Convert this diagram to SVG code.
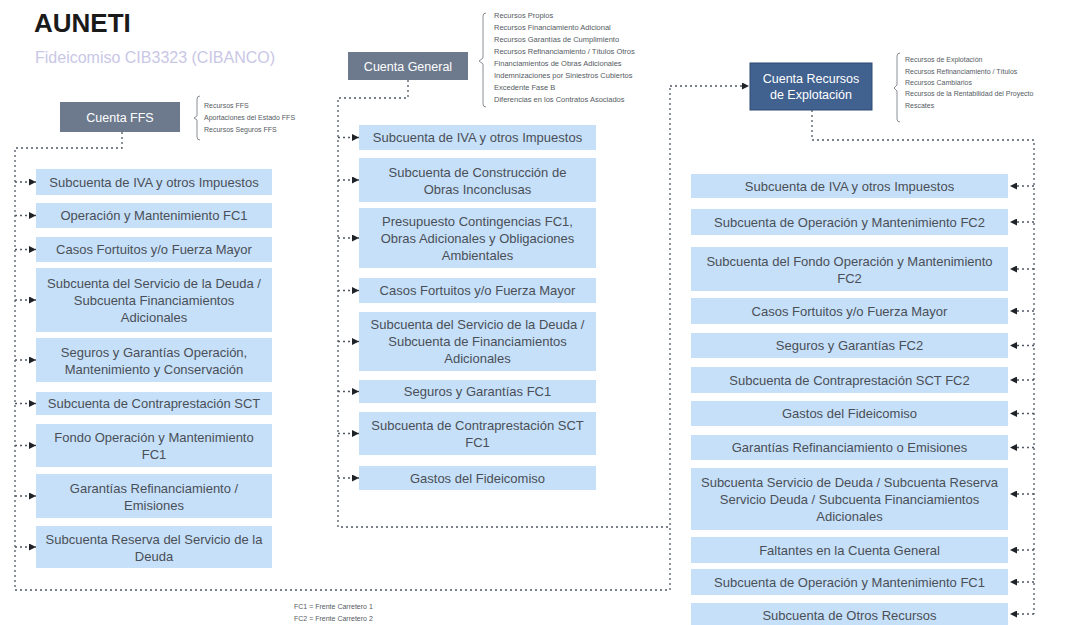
<svg xmlns="http://www.w3.org/2000/svg" width="1076" height="625" viewBox="0 0 1076 625">
  <style>
    .title { font-family: "Liberation Sans", Arial, sans-serif; font-weight: bold; font-size: 26px; fill: #1a1a1a; }
    .subtitle { font-family: "Liberation Sans", Arial, sans-serif; font-size: 16px; fill: #c9c7e6; }
    .acct { fill: #6d7a8d; }
    .acct-main { fill: #41618f; stroke: #2f4a72; stroke-width: 1; }
    .acct-label { font-family: "Liberation Sans", Arial, sans-serif; font-size: 12.5px; fill: #ffffff; text-anchor: middle; }
    .sub { fill: #c6e0f9; }
    .sub-label { font-family: "Liberation Sans", Arial, sans-serif; font-size: 13px; fill: #4a4f57; text-anchor: middle; }
    .note { font-family: "Liberation Sans", Arial, sans-serif; font-size: 7px; fill: #555b63; }
    .note-wide { font-size: 7.5px; }
    .brace { fill: none; stroke: #8a8f96; stroke-width: 1; }
    .link { fill: none; stroke: #4f5864; stroke-width: 1.3; stroke-dasharray: 2 3; }
    .feed { fill: none; stroke: #4f5864; stroke-width: 1.3; stroke-dasharray: 2 3; marker-end: url(#tip); }
  </style>
  <defs>
    <marker id="tip" viewBox="0 0 7 7" refX="7" refY="3.5" markerWidth="7" markerHeight="7" markerUnits="userSpaceOnUse" orient="auto">
      <path d="M0,0 L7,3.5 L0,7 Z" fill="#1f2328"/>
    </marker>
  </defs>

  <rect width="1076" height="625" fill="#ffffff"/>

  <!-- Heading -->
  <text class="title" x="34" y="32">AUNETI</text>
  <text class="subtitle" x="35" y="63">Fideicomiso CIB3323 (CIBANCO)</text>

  <!-- Connectors -->
  <g id="connectors">
    <!-- Cuenta FFS spine -->
    <path class="link" d="M122,132 V148 H15 V590 H670"/>
    <!-- Cuenta General spine -->
    <path class="link" d="M408,80 V98 H338 V527 H670"/>
    <!-- transfer to Cuenta Recursos de Explotación -->
    <path class="link" d="M670,590 V86"/>
    <path class="feed" d="M670,86 H749"/>
    <!-- Cuenta Recursos de Explotación spine -->
    <path class="link" d="M812,110 V140 H1034 V614"/>

    <!-- left column feeds -->
    <path class="feed" d="M15,182 H36"/>
    <path class="feed" d="M15,215.5 H36"/>
    <path class="feed" d="M15,249.5 H36"/>
    <path class="feed" d="M15,300 H36"/>
    <path class="feed" d="M15,360 H36"/>
    <path class="feed" d="M15,403.5 H36"/>
    <path class="feed" d="M15,445.5 H36"/>
    <path class="feed" d="M15,496 H36"/>
    <path class="feed" d="M15,547 H36"/>

    <!-- middle column feeds -->
    <path class="feed" d="M338,137.5 H359"/>
    <path class="feed" d="M338,180 H359"/>
    <path class="feed" d="M338,238 H359"/>
    <path class="feed" d="M338,290.5 H359"/>
    <path class="feed" d="M338,341.5 H359"/>
    <path class="feed" d="M338,391.5 H359"/>
    <path class="feed" d="M338,433.5 H359"/>
    <path class="feed" d="M338,478 H359"/>

    <!-- right column feeds -->
    <path class="feed" d="M1034,186 H1010"/>
    <path class="feed" d="M1034,222 H1010"/>
    <path class="feed" d="M1034,269 H1010"/>
    <path class="feed" d="M1034,311 H1010"/>
    <path class="feed" d="M1034,345.5 H1010"/>
    <path class="feed" d="M1034,380 H1010"/>
    <path class="feed" d="M1034,413.5 H1010"/>
    <path class="feed" d="M1034,447.5 H1010"/>
    <path class="feed" d="M1034,494 H1010"/>
    <path class="feed" d="M1034,550 H1010"/>
    <path class="feed" d="M1034,582 H1010"/>
    <path class="feed" d="M1034,614 H1010"/>
  </g>

  <!-- Cuenta FFS -->
  <g id="cuenta-ffs">
    <rect class="acct" x="60" y="102" width="120" height="30"/>
    <text class="acct-label" x="120" y="121.5">Cuenta FFS</text>
    <path class="brace" d="M200,96 Q197,96 197,99 V116 L194,118 L197,120 V137 Q197,140 200,140"/>
    <text class="note" x="204" y="108">Recursos FFS</text>
    <text class="note" x="204" y="120">Aportaciones del Estado FFS</text>
    <text class="note" x="204" y="132">Recursos Seguros FFS</text>
  </g>

  <!-- Cuenta General -->
  <g id="cuenta-general">
    <rect class="acct" x="348" y="52" width="120" height="28"/>
    <text class="acct-label" x="408" y="70.5">Cuenta General</text>
    <path class="brace" d="M486,13 Q483,13 483,16 V58 L479,61 L483,64 V104 Q483,107 486,107"/>
    <text class="note note-wide" x="494" y="18">Recursos Propios</text>
    <text class="note note-wide" x="494" y="30">Recursos Financiamiento Adicional</text>
    <text class="note note-wide" x="494" y="42">Recursos Garantías de Cumplimiento</text>
    <text class="note note-wide" x="494" y="54">Recursos Refinanciamiento / Títulos Otros</text>
    <text class="note note-wide" x="494" y="66">Financiamientos de Obras Adicionales</text>
    <text class="note note-wide" x="494" y="78">Indemnizaciones por Siniestros Cubiertos</text>
    <text class="note note-wide" x="494" y="90">Excedente Fase B</text>
    <text class="note note-wide" x="494" y="102">Diferencias en los Contratos Asociados</text>
  </g>

  <!-- Cuenta Recursos de Explotación -->
  <g id="cuenta-recursos-explotacion">
    <rect class="acct-main" x="750" y="63" width="122" height="47"/>
    <text class="acct-label" x="811" y="83">Cuenta Recursos</text>
    <text class="acct-label" x="811" y="99">de Explotación</text>
    <path class="brace" d="M900,53 Q897,53 897,56 V85 L894,88 L897,91 V119 Q897,122 900,122"/>
    <text class="note" x="905" y="62">Recursos de Explotación</text>
    <text class="note" x="905" y="74">Recursos Refinanciamiento / Títulos</text>
    <text class="note" x="905" y="85">Recursos Cambiarios</text>
    <text class="note" x="905" y="96">Recursos de la Rentabilidad del Proyecto</text>
    <text class="note" x="905" y="108">Rescates</text>
  </g>

  <!-- Left column: Cuenta FFS subaccounts -->
  <g id="ffs-iva">
    <rect class="sub" x="36" y="169" width="236" height="26"/>
    <text class="sub-label" x="154" y="186.5">Subcuenta de IVA y otros Impuestos</text>
  </g>
  <g id="ffs-operacion">
    <rect class="sub" x="36" y="203" width="236" height="25"/>
    <text class="sub-label" x="154" y="220">Operación y Mantenimiento FC1</text>
  </g>
  <g id="ffs-casos-fortuitos">
    <rect class="sub" x="36" y="237" width="236" height="25"/>
    <text class="sub-label" x="154" y="254">Casos Fortuitos y/o Fuerza Mayor</text>
  </g>
  <g id="ffs-servicio-deuda">
    <rect class="sub" x="36" y="268" width="236" height="64"/>
    <text class="sub-label" x="154" y="287.5">Subcuenta del Servicio de la Deuda /</text>
    <text class="sub-label" x="154" y="304.5">Subcuenta Financiamientos</text>
    <text class="sub-label" x="154" y="321.5">Adicionales</text>
  </g>
  <g id="ffs-seguros">
    <rect class="sub" x="36" y="338" width="236" height="44"/>
    <text class="sub-label" x="154" y="356.5">Seguros y Garantías Operación,</text>
    <text class="sub-label" x="154" y="373.5">Mantenimiento y Conservación</text>
  </g>
  <g id="ffs-contraprestacion">
    <rect class="sub" x="36" y="392" width="236" height="23"/>
    <text class="sub-label" x="154" y="408">Subcuenta de Contraprestación SCT</text>
  </g>
  <g id="ffs-fondo-operacion">
    <rect class="sub" x="36" y="424" width="236" height="43"/>
    <text class="sub-label" x="154" y="441.5">Fondo Operación y Mantenimiento</text>
    <text class="sub-label" x="154" y="458.5">FC1</text>
  </g>
  <g id="ffs-garantias">
    <rect class="sub" x="36" y="474" width="236" height="44"/>
    <text class="sub-label" x="154" y="492.5">Garantías Refinanciamiento /</text>
    <text class="sub-label" x="154" y="509.5">Emisiones</text>
  </g>
  <g id="ffs-reserva">
    <rect class="sub" x="36" y="526" width="236" height="42"/>
    <text class="sub-label" x="154" y="543.5">Subcuenta Reserva del Servicio de la</text>
    <text class="sub-label" x="154" y="560.5">Deuda</text>
  </g>

  <!-- Middle column: Cuenta General subaccounts -->
  <g id="gen-iva">
    <rect class="sub" x="359" y="125" width="237" height="25"/>
    <text class="sub-label" x="477.5" y="142">Subcuenta de IVA y otros Impuestos</text>
  </g>
  <g id="gen-construccion">
    <rect class="sub" x="359" y="158" width="237" height="44"/>
    <text class="sub-label" x="477.5" y="176.5">Subcuenta de Construcción de</text>
    <text class="sub-label" x="477.5" y="193.5">Obras Inconclusas</text>
  </g>
  <g id="gen-contingencias">
    <rect class="sub" x="359" y="208" width="237" height="60"/>
    <text class="sub-label" x="477.5" y="225.5">Presupuesto Contingencias FC1,</text>
    <text class="sub-label" x="477.5" y="242.5">Obras Adicionales y Obligaciones</text>
    <text class="sub-label" x="477.5" y="259.5">Ambientales</text>
  </g>
  <g id="gen-casos-fortuitos">
    <rect class="sub" x="359" y="278" width="237" height="25"/>
    <text class="sub-label" x="477.5" y="295">Casos Fortuitos y/o Fuerza Mayor</text>
  </g>
  <g id="gen-servicio-deuda">
    <rect class="sub" x="359" y="312" width="237" height="59"/>
    <text class="sub-label" x="477.5" y="329">Subcuenta del Servicio de la Deuda /</text>
    <text class="sub-label" x="477.5" y="346">Subcuenta de Financiamientos</text>
    <text class="sub-label" x="477.5" y="363">Adicionales</text>
  </g>
  <g id="gen-seguros">
    <rect class="sub" x="359" y="380" width="237" height="23"/>
    <text class="sub-label" x="477.5" y="396">Seguros y Garantías FC1</text>
  </g>
  <g id="gen-contraprestacion">
    <rect class="sub" x="359" y="412" width="237" height="43"/>
    <text class="sub-label" x="477.5" y="429.5">Subcuenta de Contraprestación SCT</text>
    <text class="sub-label" x="477.5" y="446.5">FC1</text>
  </g>
  <g id="gen-gastos">
    <rect class="sub" x="359" y="466" width="237" height="24"/>
    <text class="sub-label" x="477.5" y="482.5">Gastos del Fideicomiso</text>
  </g>

  <!-- Right column: Cuenta Recursos de Explotación subaccounts -->
  <g id="exp-iva">
    <rect class="sub" x="691" y="174" width="317" height="24"/>
    <text class="sub-label" x="849.5" y="190.5">Subcuenta de IVA y otros Impuestos</text>
  </g>
  <g id="exp-operacion-fc2">
    <rect class="sub" x="691" y="209" width="317" height="26"/>
    <text class="sub-label" x="849.5" y="226.5">Subcuenta de Operación y Mantenimiento FC2</text>
  </g>
  <g id="exp-fondo-operacion">
    <rect class="sub" x="691" y="247" width="317" height="44"/>
    <text class="sub-label" x="849.5" y="265.5">Subcuenta del Fondo Operación y Mantenimiento</text>
    <text class="sub-label" x="849.5" y="282.5">FC2</text>
  </g>
  <g id="exp-casos-fortuitos">
    <rect class="sub" x="691" y="298" width="317" height="26"/>
    <text class="sub-label" x="849.5" y="315.5">Casos Fortuitos y/o Fuerza Mayor</text>
  </g>
  <g id="exp-seguros">
    <rect class="sub" x="691" y="333" width="317" height="25"/>
    <text class="sub-label" x="849.5" y="350">Seguros y Garantías FC2</text>
  </g>
  <g id="exp-contraprestacion">
    <rect class="sub" x="691" y="367" width="317" height="26"/>
    <text class="sub-label" x="849.5" y="384.5">Subcuenta de Contraprestación SCT FC2</text>
  </g>
  <g id="exp-gastos">
    <rect class="sub" x="691" y="401" width="317" height="25"/>
    <text class="sub-label" x="849.5" y="418">Gastos del Fideicomiso</text>
  </g>
  <g id="exp-garantias">
    <rect class="sub" x="691" y="435" width="317" height="25"/>
    <text class="sub-label" x="849.5" y="452">Garantías Refinanciamiento o Emisiones</text>
  </g>
  <g id="exp-servicio-deuda">
    <rect class="sub" x="691" y="468" width="317" height="62"/>
    <text class="sub-label" x="849.5" y="486.5">Subcuenta Servicio de Deuda / Subcuenta Reserva</text>
    <text class="sub-label" x="849.5" y="503.5">Servicio Deuda / Subcuenta Financiamientos</text>
    <text class="sub-label" x="849.5" y="520.5">Adicionales</text>
  </g>
  <g id="exp-faltantes">
    <rect class="sub" x="691" y="537" width="317" height="26"/>
    <text class="sub-label" x="849.5" y="554.5">Faltantes en la Cuenta General</text>
  </g>
  <g id="exp-operacion-fc1">
    <rect class="sub" x="691" y="569" width="317" height="26"/>
    <text class="sub-label" x="849.5" y="586.5">Subcuenta de Operación y Mantenimiento FC1</text>
  </g>
  <g id="exp-otros-recursos">
    <rect class="sub" x="691" y="603" width="317" height="26"/>
    <text class="sub-label" x="849.5" y="620">Subcuenta de Otros Recursos</text>
  </g>

  <!-- Abbreviations -->
  <g id="legend">
    <text class="note" x="294" y="609">FC1 = Frente Carretero 1</text>
    <text class="note" x="294" y="621">FC2 = Frente Carretero 2</text>
  </g>
</svg>
